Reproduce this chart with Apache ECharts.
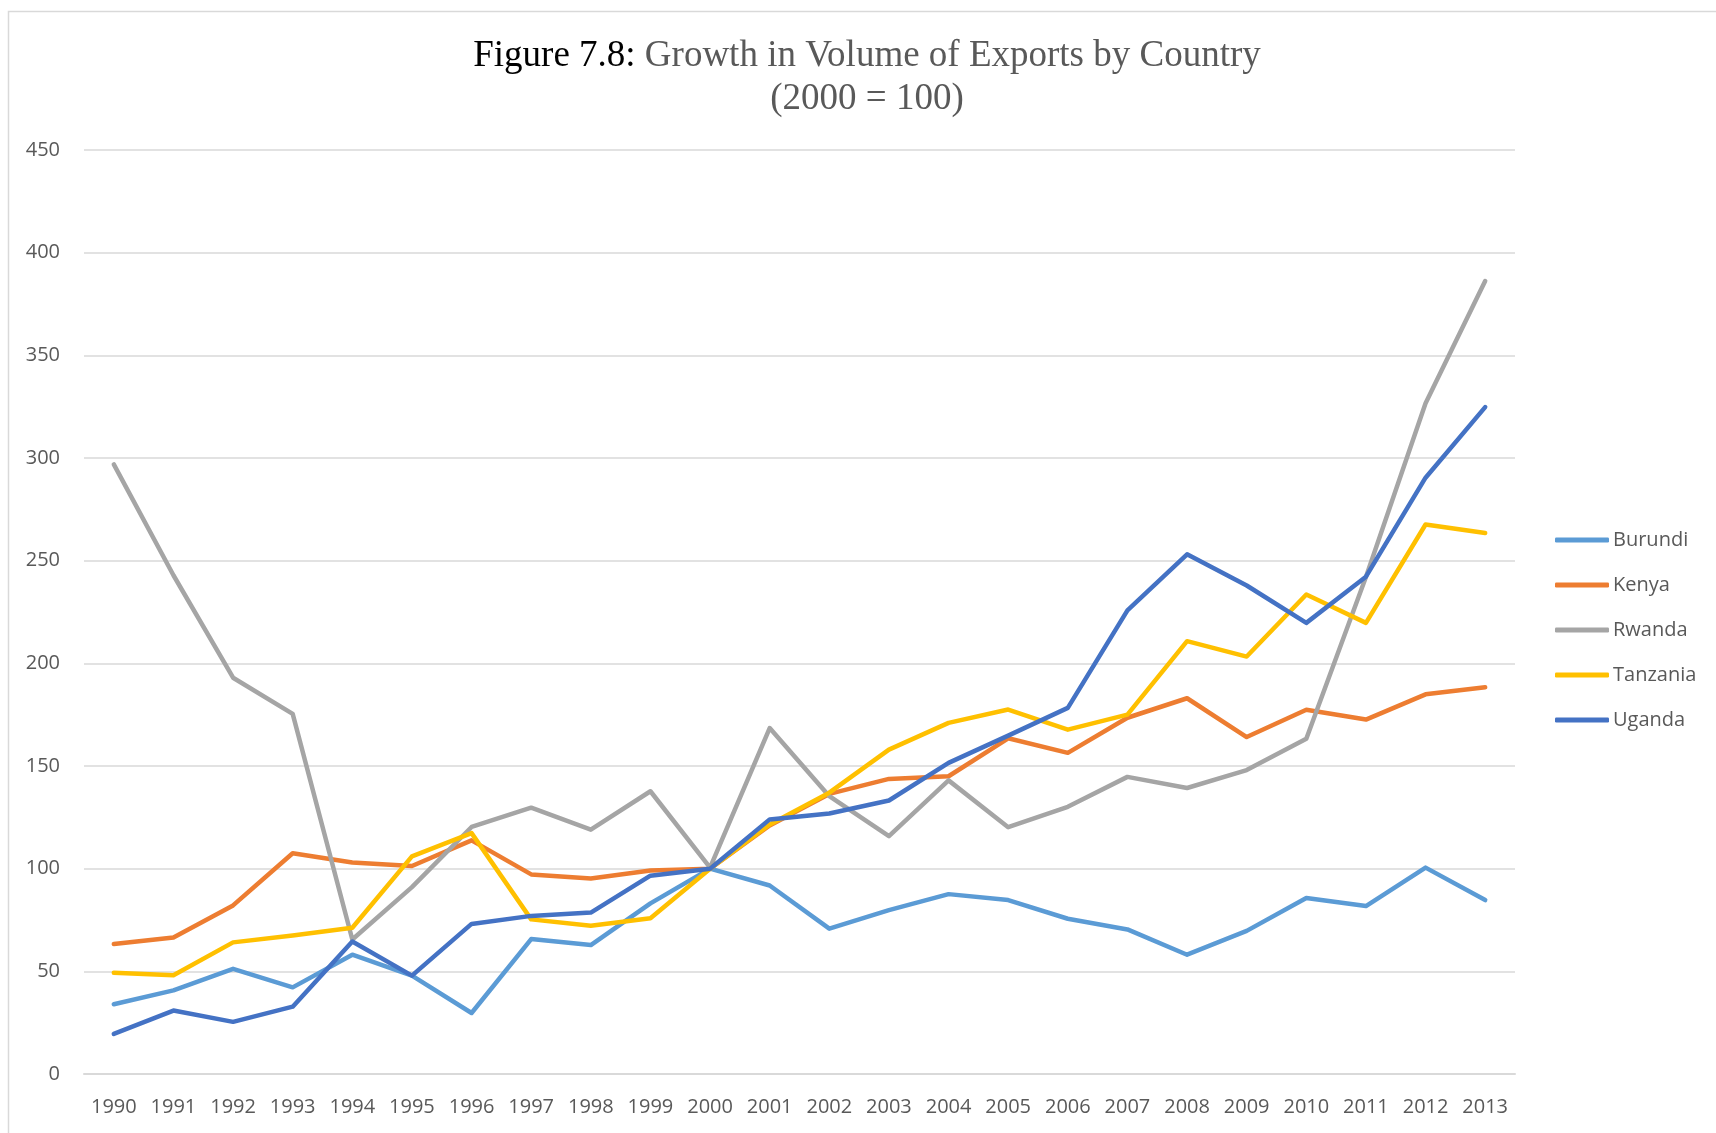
<!DOCTYPE html>
<html>
<head>
<meta charset="utf-8">
<script src="https://cdn.jsdelivr.net/npm/echarts@6/dist/echarts.min.js"></script>
<style>html,body{margin:0;padding:0;background:#fff}#c{width:1716px;height:1133px}</style>
</head>
<body>
<div id="c"></div>
<script>
const years = ['1990','1991','1992','1993','1994','1995','1996','1997','1998','1999','2000','2001','2002','2003','2004','2005','2006','2007','2008','2009','2010','2011','2012','2013'];
const burundi  = [34, 40.7, 51.2, 42.2, 58.1, 47.9, 29.7, 65.7, 62.8, 83.1, 100, 91.8, 70.8, 79.8, 87.6, 84.7, 75.6, 70.4, 58.1, 69.7, 85.7, 81.8, 100.5, 84.7];
const kenya    = [63.3, 66.5, 82.1, 107.5, 103, 101.3, 113.8, 97.2, 95.2, 99.1, 100, 121, 136.4, 143.7, 145, 163.5, 156.4, 173.5, 183, 164.1, 177.4, 172.6, 184.9, 188.3];
const rwanda   = [296.9, 242.9, 193, 175.4, 65.5, 91, 120.3, 129.7, 119, 137.7, 100.5, 168.5, 135.3, 115.8, 143, 120.2, 130.1, 144.7, 139.3, 148, 163.3, 242, 326.7, 386.2];
const tanzania = [49.3, 48.1, 64.1, 67.5, 71.2, 106, 117.3, 75.3, 72.2, 75.9, 100, 121.5, 137, 158, 171, 177.5, 167.7, 175, 210.8, 203.3, 233.5, 219.7, 267.6, 263.5];
const uganda   = [19.5, 30.9, 25.4, 32.8, 64.5, 47.9, 73.1, 77, 78.6, 96.6, 100, 124, 126.9, 133.2, 151.5, 164.8, 178.3, 225.8, 253.1, 237.9, 219.7, 242.2, 290.4, 324.8];
const seriesNames = ['Burundi','Kenya','Rwanda','Tanzania','Uganda'];
const seriesData = [burundi, kenya, rwanda, tanzania, uganda];
const colors = ['#5B9BD5','#ED7D31','#A5A5A5','#FFC000','#4472C4'];

const chart = echarts.init(document.getElementById('c'));
chart.setOption({
  animation: false,
  color: colors,
  graphic: [{
    type: 'rect', silent: true,
    shape: {x: 8.5, y: 11.5, width: 1730, height: 1140},
    style: {fill: 'none', stroke: '#d9d9d9', lineWidth: 1.5}
  }],
  title: {
    left: 867, top: 35, textAlign: 'center', padding: 0,
    text: '{a|Figure 7.8:}{b| Growth in Volume of Exports by Country}\n{b|(2000 = 100)}',
    textStyle: {
      fontFamily: 'Liberation Serif', fontSize: 37, fontWeight: 'normal', lineHeight: 43,
      rich: {
        a: {color: '#000000', fontFamily: 'Liberation Serif', fontSize: 37, fontWeight: 'normal', lineHeight: 43},
        b: {color: '#595959', fontFamily: 'Liberation Serif', fontSize: 37, fontWeight: 'normal', lineHeight: 43}
      }
    }
  },
  legend: {
    orient: 'vertical', left: 1555, top: 530, padding: 0,
    itemWidth: 54, itemHeight: 5, itemGap: 25, icon: 'roundRect',
    data: seriesNames,
    textStyle: {fontFamily: 'Open Sans', fontSize: 20, lineHeight: 20, color: '#595959', padding: [0,0,0,-1]}
  },
  grid: {left: 84, right: 201, top: 150, bottom: 59, containLabel: false},
  xAxis: {
    type: 'category', data: years, boundaryGap: true,
    axisLine: {show: true, lineStyle: {color: '#d9d9d9', width: 2}},
    axisTick: {show: false},
    axisLabel: {fontFamily: 'Open Sans', fontSize: 20, color: '#595959', margin: 23, interval: 0}
  },
  yAxis: {
    type: 'value', min: 0, max: 450, interval: 50,
    axisLine: {show: false}, axisTick: {show: false},
    splitLine: {lineStyle: {color: '#d9d9d9', width: 1.5}},
    axisLabel: {fontFamily: 'Open Sans', fontSize: 20, color: '#595959', margin: 24}
  },
  series: seriesNames.map((n, i) => ({
    name: n, type: 'line', data: seriesData[i], symbol: 'none',
    lineStyle: {width: 4.5, color: colors[i], cap: 'round', join: 'round'},
    itemStyle: {color: colors[i]}
  }))
});
</script>
</body>
</html>
